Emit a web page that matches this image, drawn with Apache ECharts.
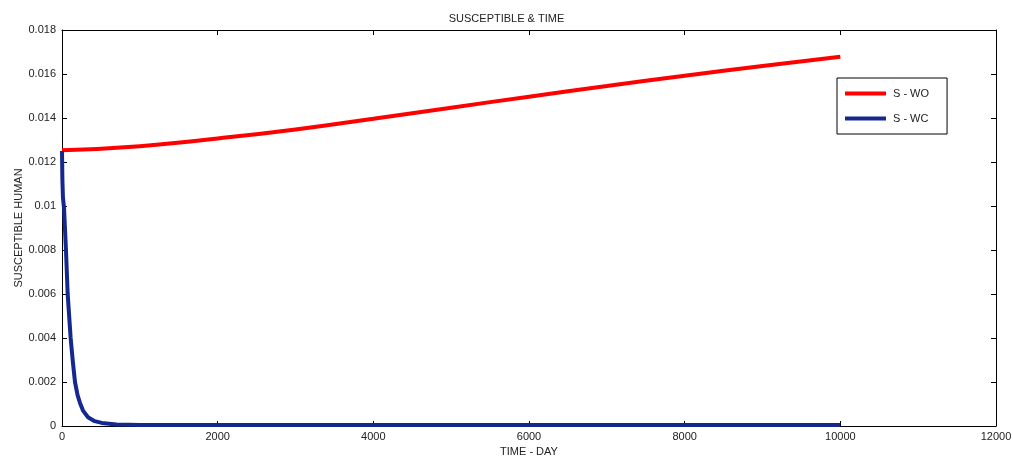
<!DOCTYPE html>
<html>
<head>
<meta charset="utf-8">
<script src="https://cdn.jsdelivr.net/npm/echarts@6/dist/echarts.min.js"></script>
<style>
  html, body { margin: 0; padding: 0; background: #fff; }
  #chart { width: 1013px; height: 459px; }
</style>
</head>
<body>
<div id="chart"></div>
<script>
// S - WO (without control)
var woDays = [0, 1000, 2000, 3000, 4000, 5000, 6000, 7000, 8000, 9000, 10000];
var woValues = [0.01253, 0.01272, 0.01307, 0.01348, 0.01397, 0.01447, 0.01497, 0.01545, 0.01592, 0.01636, 0.01678];

// S - WC (with control)
var wcDays = [0, 5, 12, 26, 51, 73, 111, 140, 167, 200, 231, 270, 334, 420, 510, 700, 1000, 2000, 4000, 6000, 8000, 10000];
var wcValues = [0.0125, 0.0112, 0.0104, 0.0099, 0.0080, 0.0060, 0.0040, 0.0029, 0.0020, 0.0014, 0.00105, 0.0007, 0.0004, 0.00022, 0.00014, 0.00007, 0.00005, 0.00005, 0.00005, 0.00005, 0.00005, 0.00005];

var xTicks = [0, 2000, 4000, 6000, 8000, 10000, 12000];

function pairs(xs, ys) {
  return xs.map(function (x, i) { return [x, ys[i]]; });
}

var chart = echarts.init(document.getElementById('chart'));
var font = 'Liberation Sans';

function boxAxis() {
  return {
    axisLine: { show: true, onZero: false, lineStyle: { color: '#000', width: 1 } },
    axisTick: { show: true, inside: true, length: 5, lineStyle: { color: '#000' } },
    splitLine: { show: false }
  };
}

chart.setOption({
  animation: false,
  title: {
    text: 'SUSCEPTIBLE & TIME',
    left: 'center',
    top: 8,
    textStyle: { fontFamily: font, fontSize: 11, fontWeight: 'normal', color: '#222' }
  },
  legend: {
    orient: 'vertical',
    left: 837,
    top: 78,
    padding: [10, 18, 10, 8],
    itemGap: 14,
    itemWidth: 41,
    itemHeight: 4,
    icon: 'rect',
    borderColor: '#000',
    borderWidth: 1,
    backgroundColor: '#fff',
    textStyle: { fontFamily: font, fontSize: 11, color: '#222', padding: [0, 0, 0, 2] },
    data: ['S - WO', 'S - WC']
  },
  grid: { left: 62, right: 17, top: 30, bottom: 33, outerBoundsMode: 'none' },
  xAxis: [
    Object.assign(boxAxis(), {
      type: 'value',
      min: xTicks[0], max: xTicks[xTicks.length - 1], interval: 2000,
      name: 'TIME - DAY',
      nameLocation: 'middle',
      nameGap: 18,
      nameTextStyle: { fontFamily: font, fontSize: 11, color: '#222' },
      axisLabel: { fontFamily: font, fontSize: 11, color: '#222', margin: 5,
        formatter: function (v) { return String(v); } }
    }),
    Object.assign(boxAxis(), {
      type: 'value', position: 'top',
      min: xTicks[0], max: xTicks[xTicks.length - 1], interval: 2000,
      axisLabel: { show: false }
    })
  ],
  yAxis: [
    Object.assign(boxAxis(), {
      type: 'value',
      min: 0, max: 0.018, interval: 0.002,
      name: 'SUSCEPTIBLE HUMAN',
      nameLocation: 'middle',
      nameGap: 38,
      nameMoveOverlap: false,
      nameTextStyle: { fontFamily: font, fontSize: 11, color: '#222' },
      axisLabel: { fontFamily: font, fontSize: 11, color: '#222', margin: 6 }
    }),
    Object.assign(boxAxis(), {
      type: 'value', position: 'right',
      min: 0, max: 0.018, interval: 0.002,
      axisLabel: { show: false }
    })
  ],
  series: [
    {
      name: 'S - WO',
      type: 'line',
      smooth: true,
      showSymbol: false,
      color: '#ff0000',
      lineStyle: { width: 4, color: '#ff0000' },
      data: pairs(woDays, woValues)
    },
    {
      name: 'S - WC',
      type: 'line',
      smooth: false,
      showSymbol: false,
      color: '#15288f',
      lineStyle: { width: 4, color: '#15288f', join: 'round' },
      data: pairs(wcDays, wcValues)
    }
  ]
});
</script>
</body>
</html>
